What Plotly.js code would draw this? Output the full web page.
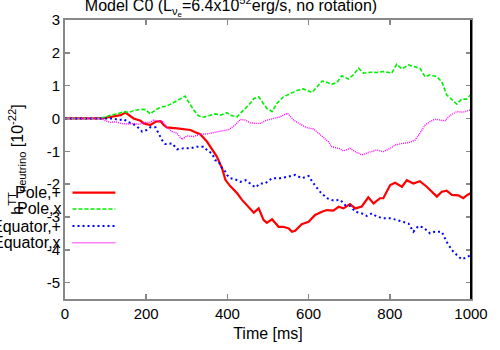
<!DOCTYPE html>
<html>
<head>
<meta charset="utf-8">
<script src="https://cdn.plot.ly/plotly-3.0.1.min.js"></script>
<style>
  html, body { margin:0; padding:0; background:#fff; }
  #chart { width:500px; height:350px; }
</style>
</head>
<body>
<div id="chart"></div>
<script>
// Values (time in ms, strain in 1e-22)
const poleP_t = [0,90,137,149,169,186,194,210,223,235,243,251,276,292,309,321,333,350,358,366,374,387,395,407,424,436,452,465,477,489,497,510,526,538,551,559,567,583,600,616,633,645,661,674,686,702,715,731,747,760,776,784,801,813,830,842,858,874,891,903,916,928,940,953,969,981,991,999];
const poleP_h = [0,0,0.1,0.18,0,-0.07,-0.15,-0.2,-0.1,-0.08,-0.2,-0.27,-0.3,-0.32,-0.35,-0.42,-0.48,-0.71,-0.86,-1.01,-1.16,-1.52,-1.87,-2.06,-2.28,-2.48,-2.69,-2.87,-2.74,-3.09,-3.18,-3.07,-3.3,-3.3,-3.35,-3.45,-3.42,-3.22,-3.15,-2.94,-2.84,-2.79,-2.81,-2.69,-2.74,-2.61,-2.74,-2.68,-2.4,-2.59,-2.43,-2.43,-2.03,-1.96,-2.08,-1.88,-1.98,-1.91,-2.08,-2.23,-2.38,-2.23,-2.2,-2.33,-2.34,-2.43,-2.33,-2.28];

const poleX_t = [0,85,100,112,128,145,157,169,186,198,210,223,235,251,264,276,288,296,304,317,329,341,354,370,383,399,407,424,436,452,465,477,489,497,510,522,538,555,571,587,608,620,633,645,657,670,682,698,710,723,735,752,768,784,805,817,830,846,862,874,887,899,916,928,940,953,965,977,989,999];
const poleX_h = [0,0,0.05,0.1,0.14,0.21,0.18,0.24,0.28,0.27,0.14,0.26,0.34,0.38,0.46,0.54,0.61,0.68,0.51,0.26,0.08,0.04,0.08,0.14,0.1,0.18,0.1,0.05,0.21,0.4,0.6,0.66,0.45,0.31,0.21,0.46,0.66,0.77,0.85,0.9,0.79,0.95,1.14,1.1,1.04,1.1,1.3,1.2,1.33,1.53,1.38,1.41,1.4,1.43,1.38,1.65,1.51,1.63,1.58,1.53,1.27,1.33,1.27,1.12,0.72,0.56,0.44,0.59,0.59,0.72];

const eqP_t = [0,100,120,132,145,153,165,178,190,202,210,223,231,239,247,264,276,292,309,325,341,354,362,370,378,387,395,399,407,419,432,445,461,469,481,493,510,530,551,567,583,600,612,628,645,661,678,690,702,715,731,743,756,768,784,801,817,834,846,858,870,883,899,911,928,940,953,965,977,989,999];
const eqP_h = [0,0,0,-0.05,-0.02,-0.1,-0.15,-0.25,-0.4,-0.35,-0.27,-0.27,-0.45,-0.66,-0.78,-0.76,-0.94,-0.91,-0.91,-0.86,-0.86,-1.01,-1.06,-1.27,-1.31,-1.52,-1.62,-1.72,-1.82,-1.85,-1.93,-1.88,-2.03,-2.1,-1.98,-1.98,-1.82,-1.82,-1.77,-1.72,-1.82,-1.75,-1.98,-2.23,-2.43,-2.5,-2.48,-2.64,-2.66,-2.84,-2.89,-2.97,-2.89,-2.99,-3.04,-3.04,-3.09,-3.15,-3.2,-3.45,-3.28,-3.32,-3.5,-3.45,-3.45,-3.76,-4.01,-4.16,-4.29,-4.23,-4.16];

const eqX_t = [0,90,100,112,125,137,153,169,182,198,210,218,231,239,251,264,276,288,300,317,333,350,366,383,403,419,432,444,456,469,481,497,514,530,548,563,579,596,612,624,637,649,657,674,686,702,715,731,747,768,784,801,813,830,846,862,874,887,899,911,924,936,948,965,981,998];
const eqX_h = [0,0,-0.07,-0.12,-0.1,-0.15,-0.17,-0.15,-0.18,-0.12,-0.12,-0.05,-0.08,-0.07,-0.27,-0.4,-0.45,-0.64,-0.53,-0.55,-0.48,-0.47,-0.43,-0.39,-0.34,-0.2,-0.03,-0.05,-0.13,-0.15,-0.15,-0.05,0,0.05,0.16,-0.05,-0.17,-0.28,-0.32,-0.45,-0.6,-0.71,-0.86,-0.91,-0.99,-0.91,-1.01,-1.11,-1.04,-0.96,-1.01,-0.91,-0.81,-0.76,-0.74,-0.66,-0.45,-0.2,-0.1,-0.02,-0.05,-0.07,0.09,0.21,0.19,0.26];

const seriesNames = ['Pole,+', 'Pole,x', 'Equator,+', 'Equator,x'];
const xTicks = [0,200,400,600,800,1000];
const yTicks = [-5,-4,-3,-2,-1,0,1,2,3];

const FONT = 'Liberation Sans, Arial, sans-serif';
const styles = [
  {color:'#ff0000', width:2.2, dash:'solid'},
  {color:'#00ee00', width:1.6, dash:'4px,2px'},
  {color:'#0000ff', width:2, dash:'2px,3px'},
  {color:'#ff00ff', width:1.4, dash:'1px,1px'}
];
const data = [[poleP_t,poleP_h],[poleX_t,poleX_h],[eqP_t,eqP_h],[eqX_t,eqX_h]];

const traces = data.map((d,i)=>({
  type:'scatter', mode:'lines', name:seriesNames[i], x:d[0], y:d[1],
  line:Object.assign({shape:'linear'}, styles[i]), showlegend:false
}));

// hand-made legend (gnuplot style: text left of the sample line)
const legRows = [0.381, 0.3226, 0.2616, 0.2018];
const annotations = seriesNames.map((n,i)=>({
  xref:'paper', yref:'paper', x:-0.006, y:legRows[i], xanchor:'right', yanchor:'middle',
  text:n, showarrow:false, font:{family:FONT, size:16, color:'#000'}
}));
const shapes = styles.map((s,i)=>({
  type:'line', xref:'paper', yref:'paper', x0:0.0185, x1:0.124, y0:legRows[i], y1:legRows[i],
  line:{color:s.color, width:s.width, dash:s.dash}
}));
// right border is black in the reference
shapes.push({type:'line', xref:'paper', yref:'paper', x0:1, x1:1, y0:0, y1:1, line:{color:'#000', width:2}});

const axisCommon = {
  showgrid:false, zeroline:false, showline:true, linecolor:'#888', linewidth:2,
  mirror:'ticks', ticks:'inside', ticklen:5, tickcolor:'#888', tickwidth:1.5,
  tickfont:{family:FONT, size:15, color:'#000'}
};

const layout = {
  width:500, height:350,
  paper_bgcolor:'#fff', plot_bgcolor:'#fff',
  margin:{l:65, r:29, t:20, b:51},
  font:{family:FONT, size:15, color:'#000'},
  title:{text:'Model C0 (L<sub>ν<sub>e</sub></sub>=6.4x10<sup>52</sup>erg/s, no rotation)',
         xref:'container', yref:'container', x:0.462, y:0.984, xanchor:'center', yanchor:'middle',
         font:{family:FONT, size:16, color:'#000'}},
  xaxis:Object.assign({}, axisCommon, {range:[0,1000], tickvals:xTicks, ticktext:xTicks.map(String),
         title:{text:'Time [ms]', standoff:7, font:{family:FONT, size:16, color:'#000'}}}),
  yaxis:Object.assign({}, axisCommon, {range:[-5.5,3], tickvals:yTicks, ticktext:yTicks.map(String),
         title:{text:'h<sup>TT</sup><sub>neutrino</sub> [10<sup>-22</sup>]', standoff:19, font:{family:FONT, size:16, color:'#000'}}}),
  annotations:annotations,
  shapes:shapes
};

Plotly.newPlot('chart', traces, layout, {displayModeBar:false, staticPlot:true});
</script>
</body>
</html>
